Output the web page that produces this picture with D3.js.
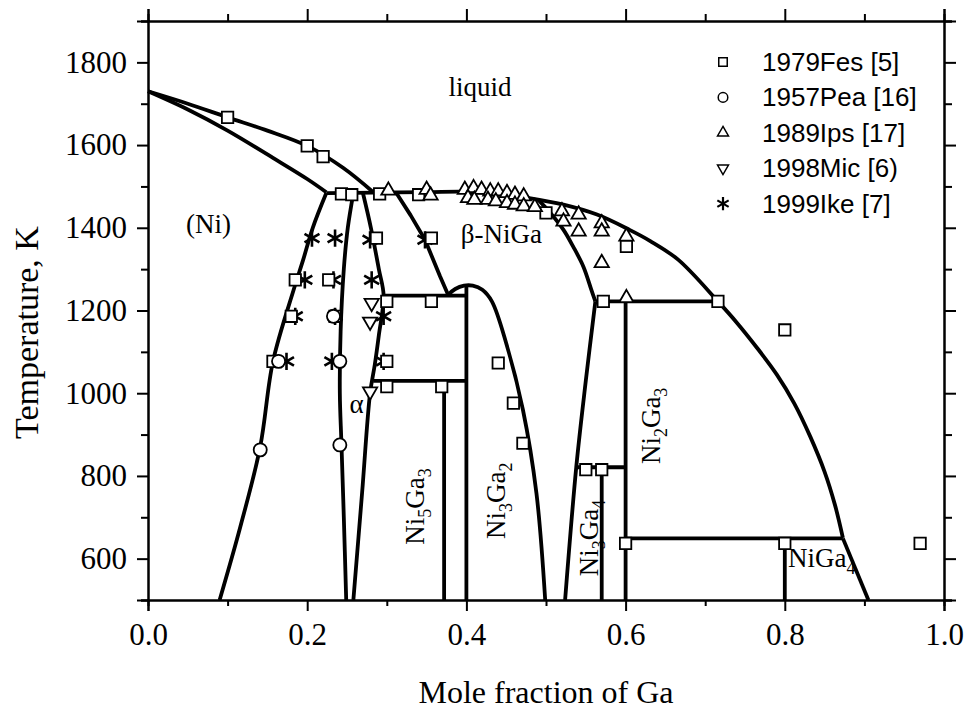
<!DOCTYPE html>
<html><head><meta charset="utf-8">
<script src="https://cdn.jsdelivr.net/npm/d3@7"></script>
<style>
body{margin:0;background:#fff;}
svg{display:block;}
</style></head><body>
<svg id="chart" width="968" height="711"></svg>
<script>
// ---------- axis ticks ----------
const xMajor = [0, 0.2, 0.4, 0.6, 0.8, 1.0];
const xMinor = [0.1, 0.3, 0.5, 0.7, 0.9];
const yMajor = [600, 800, 1000, 1200, 1400, 1600, 1800];
const yMinor = [500, 700, 900, 1100, 1300, 1500, 1700, 1900];
const xTickLabels = ["0.0", "0.2", "0.4", "0.6", "0.8", "1.0"];
const yTickLabels = ["600", "800", "1000", "1200", "1400", "1600", "1800"];

// ---------- phase boundaries [x(Ga), T(K)] ----------
const liquidusNi = [[0,1730],[0.05,1700],[0.1,1667],[0.15,1635],[0.2,1598],[0.245,1545],[0.283,1486]];
const solidusNi = [[0,1730],[0.05,1686],[0.1,1635],[0.157,1569],[0.2,1518],[0.224,1486]];
const liquidusGa = [[0.224,1484],[0.283,1485],[0.35,1486],[0.4,1487],[0.44,1482],[0.479,1472],[0.522,1456],[0.564,1432],[0.605,1395],[0.631,1368],[0.666,1323],[0.716,1222],[0.74,1170],[0.765,1110],[0.79,1045],[0.812,975],[0.832,895],[0.85,810],[0.863,730],[0.873,650]];
const niga4Liquidus = [[0.873,649],[0.905,500]];
const niSolvus = [[0.224,1484],[0.207,1400],[0.195,1323],[0.183,1250],[0.157,1077],[0.141,871],[0.116,677],[0.09,500]];
const gammaLeft = [[0.258,1484],[0.251,1400],[0.246,1300],[0.242,1150],[0.241,1000],[0.243,879],[0.246,700],[0.249,500]];
const gammaRight = [[0.27,1484],[0.28,1400],[0.29,1300],[0.296,1236],[0.29,1140],[0.285,1070],[0.279,1000],[0.269,760],[0.258,500]];
const betaLeft = [[0.312,1484],[0.33,1430],[0.348,1371],[0.367,1282],[0.377,1238]];
const ni3ga2Dome = [[0.377,1238],[0.386,1252],[0.397,1260],[0.408,1260],[0.42,1250],[0.432,1222],[0.45,1121],[0.471,960],[0.488,758],[0.499,500]];
const betaRight = [[0.49,1468],[0.505,1437],[0.522,1395],[0.534,1355],[0.547,1306],[0.557,1250],[0.562,1222]];
const ni3ga4Left = [[0.562,1222],[0.55,1030],[0.538,821],[0.524,500]];
const straightLines = [
  [[0.296,1236],[0.4,1236]],   // Ni5Ga3 upper
  [[0.283,1030],[0.4,1030]],   // Ni5Ga3 lower
  [[0.372,1030],[0.372,500]],  // Ni5Ga3
  [[0.4,1260],[0.4,500]],      // Ni3Ga2
  [[0.562,1222],[0.716,1222]], // Ni2Ga3 peritectic
  [[0.6,1222],[0.6,500]],      // Ni2Ga3
  [[0.538,821],[0.6,821]],     // Ni3Ga4 upper
  [[0.57,821],[0.57,500]],     // Ni3Ga4
  [[0.6,649],[0.873,649]],     // NiGa4 peritectic
  [[0.8,649],[0.8,500]]        // NiGa4
];

// ---------- experimental data ----------
const fes1979 = [[0.1,1667],[0.2,1598],[0.22,1572],[0.243,1482],[0.256,1480],[0.291,1482],[0.34,1480],[0.5,1436],[0.601,1355],[0.287,1375],[0.356,1375],[0.185,1274],[0.227,1274],[0.3,1222],[0.356,1222],[0.18,1186],[0.235,1186],[0.157,1077],[0.3,1077],[0.3,1016],[0.369,1016],[0.44,1073],[0.459,976],[0.471,879],[0.572,1222],[0.716,1222],[0.8,1153],[0.55,815],[0.57,815],[0.6,637],[0.8,637],[0.97,637]];
const pea1957 = [[0.141,863],[0.241,875],[0.164,1077],[0.241,1077],[0.233,1186]];
const ips1989 = [[0.302,1490],[0.35,1492],[0.355,1478],[0.398,1492],[0.409,1496],[0.419,1492],[0.43,1488],[0.44,1488],[0.451,1484],[0.461,1480],[0.472,1476],[0.402,1472],[0.41,1468],[0.427,1468],[0.437,1464],[0.451,1460],[0.461,1456],[0.472,1452],[0.486,1450],[0.52,1440],[0.522,1415],[0.541,1432],[0.541,1391],[0.57,1411],[0.57,1391],[0.601,1379],[0.57,1315],[0.601,1230]];
const mic1998 = [[0.281,1218],[0.279,1173],[0.279,1004]];
const ike1999 = [[0.206,1375],[0.235,1375],[0.279,1371],[0.348,1371],[0.197,1274],[0.233,1274],[0.281,1274],[0.185,1186],[0.235,1186],[0.296,1186],[0.174,1077],[0.231,1077],[0.296,1077]];
const legendNames = ["1979Fes [5]", "1957Pea [16]", "1989Ips [17]", "1998Mic [6)", "1999Ike [7]"];

// ---------- region labels (data units) ----------
const plainLabels = [
  {text: "liquid", x: 0.417, T: 1718},
  {text: "(Ni)", x: 0.076, T: 1388},
  {text: "\u03B2-NiGa", x: 0.444, T: 1364},
  {text: "\u03B1", x: 0.262, T: 952}
];
const compoundLabels = [
  {parts: [["Ni",0],["5",1],["Ga",0],["3",1]], x: 0.347, T: 726, rotate: true},
  {parts: [["Ni",0],["3",1],["Ga",0],["2",1]], x: 0.448, T: 740, rotate: true},
  {parts: [["Ni",0],["2",1],["Ga",0],["3",1]], x: 0.643, T: 921, rotate: true},
  {parts: [["Ni",0],["3",1],["Ga",0],["4",1]], x: 0.565, T: 650, rotate: true},
  {parts: [["NiGa",0],["4",1]], x: 0.804, T: 581, rotate: false}
];

// ---------- drawing ----------
const L = 148, R = 944, TOP = 21, BOT = 600;
const svg = d3.select("#chart");
const x = d3.scaleLinear().domain([0, 1]).range([L, R]);
const y = d3.scaleLinear().domain([500, 1900]).range([BOT, TOP]);
const serif = "'Liberation Serif','Times New Roman',serif";
const sans = "'Liberation Sans',Arial,sans-serif";

function styleAxis(g) {
  g.attr("font-family", serif);
  g.select(".domain").attr("stroke", "#000").attr("stroke-width", 2);
  g.selectAll(".tick line").attr("stroke", "#000").attr("stroke-width", 2);
  g.selectAll("text").attr("font-family", serif).attr("font-size", 31).attr("fill", "#000");
}
svg.append("g").attr("transform", `translate(0,${BOT})`)
  .call(d3.axisBottom(x).tickValues(xMajor).tickSize(11).tickPadding(12)
    .tickFormat((d, i) => xTickLabels[i]))
  .call(styleAxis);
svg.append("g").attr("transform", `translate(0,${BOT})`)
  .call(d3.axisBottom(x).tickValues(xMinor).tickSize(6).tickFormat(""))
  .call(styleAxis);
svg.append("g").attr("transform", `translate(0,${TOP})`)
  .call(d3.axisTop(x).tickValues(xMajor).tickSize(12).tickFormat(""))
  .call(styleAxis);
svg.append("g").attr("transform", `translate(0,${TOP})`)
  .call(d3.axisTop(x).tickValues(xMinor).tickSize(7).tickFormat(""))
  .call(styleAxis);
svg.append("g").attr("transform", `translate(${L},0)`)
  .call(d3.axisLeft(y).tickValues(yMajor).tickSize(11).tickPadding(10)
    .tickFormat((d, i) => yTickLabels[i]))
  .call(styleAxis);
svg.append("g").attr("transform", `translate(${L},0)`)
  .call(d3.axisLeft(y).tickValues(yMinor).tickSize(7).tickFormat(""))
  .call(styleAxis);
svg.append("g").attr("transform", `translate(${R},0)`)
  .call(d3.axisRight(y).tickValues(yMajor).tickSize(12).tickFormat(""))
  .call(styleAxis);
svg.append("g").attr("transform", `translate(${R},0)`)
  .call(d3.axisRight(y).tickValues(yMinor).tickSize(8).tickFormat(""))
  .call(styleAxis);

// axis titles
svg.append("text").attr("x", (L + R) / 2).attr("y", 703)
  .attr("text-anchor", "middle").attr("font-family", serif).attr("font-size", 32)
  .text("Mole fraction of Ga");
svg.append("text").attr("transform", `translate(38,${(TOP + BOT) / 2 + 22}) rotate(-90)`)
  .attr("text-anchor", "middle").attr("font-family", serif).attr("font-size", 34)
  .text("Temperature, K");

// phase boundaries
const plot = svg.append("g");
const curve = d3.line().x(d => x(d[0])).y(d => y(d[1])).curve(d3.curveCatmullRom.alpha(0.5));
const straight = d3.line().x(d => x(d[0])).y(d => y(d[1]));
const lineStyle = sel => sel.attr("fill", "none").attr("stroke", "#000").attr("stroke-width", 3.8)
  .attr("stroke-linejoin", "round").attr("stroke-linecap", "butt");
[liquidusNi, solidusNi, liquidusGa, niSolvus, gammaLeft, gammaRight, ni3ga2Dome, betaRight, ni3ga4Left]
  .forEach(a => plot.append("path").attr("d", curve(a)).call(lineStyle));
[betaLeft, niga4Liquidus, ...straightLines]
  .forEach(a => plot.append("path").attr("d", straight(a)).call(lineStyle));

// markers
const sym = {
  sq: d3.symbol().type(d3.symbolSquare).size(130),
  ci: d3.symbol().type(d3.symbolCircle).size(135),
  tri: d3.symbol().type(d3.symbolTriangle).size(88),
  ast: d3.symbol().type(d3.symbolAsterisk).size(210)
};
function drawPts(data, gen, rot, filled, sw) {
  plot.append("g").selectAll("path").data(data).join("path")
    .attr("d", gen())
    .attr("transform", d => `translate(${x(d[0])},${y(d[1])})` + (rot ? " rotate(180)" : ""))
    .attr("fill", filled ? "#fff" : "none")
    .attr("stroke", "#000").attr("stroke-width", sw);
}
drawPts(ike1999, sym.ast, false, false, 2.6);
drawPts(fes1979, sym.sq, false, true, 1.8);
drawPts(pea1957, sym.ci, false, true, 1.8);
drawPts(ips1989, sym.tri, false, true, 1.8);
drawPts(mic1998, sym.tri, true, true, 1.8);

// region labels
plainLabels.forEach(l => {
  svg.append("text").attr("x", x(l.x)).attr("y", y(l.T))
    .attr("text-anchor", "middle").attr("font-family", serif).attr("font-size", 27)
    .text(l.text);
});
compoundLabels.forEach(l => {
  const t = svg.append("text")
    .attr("font-family", serif).attr("font-size", 27);
  if (l.rotate) {
    t.attr("transform", `translate(${x(l.x)},${y(l.T)}) rotate(-90)`).attr("text-anchor", "middle");
  } else {
    t.attr("x", x(l.x)).attr("y", y(l.T));
  }
  let prevSub = 0;
  l.parts.forEach(([s, sub]) => {
    const dy = sub === prevSub ? 0 : (sub ? 7 : -7);
    t.append("tspan").attr("dy", dy).attr("font-size", sub ? 18 : 27).text(s);
    prevSub = sub;
  });
});

// legend
const legendTypes = [d3.symbolSquare, d3.symbolCircle, d3.symbolTriangle, d3.symbolTriangle, d3.symbolAsterisk];
const legendSizes = [72, 72, 52, 52, 120];
const lg = svg.append("g");
legendNames.forEach((name, i) => {
  const cy = 62 + i * 35.4;
  lg.append("path").attr("d", d3.symbol().type(legendTypes[i]).size(legendSizes[i])())
    .attr("transform", `translate(723,${cy})` + (i === 3 ? " rotate(180)" : ""))
    .attr("fill", i === 4 ? "none" : "#fff").attr("stroke", "#000").attr("stroke-width", i === 4 ? 2.2 : 1.5);
  lg.append("text").attr("x", 762).attr("y", cy + 9)
    .attr("font-family", sans).attr("font-size", 26).text(name);
});
</script>
</body></html>
